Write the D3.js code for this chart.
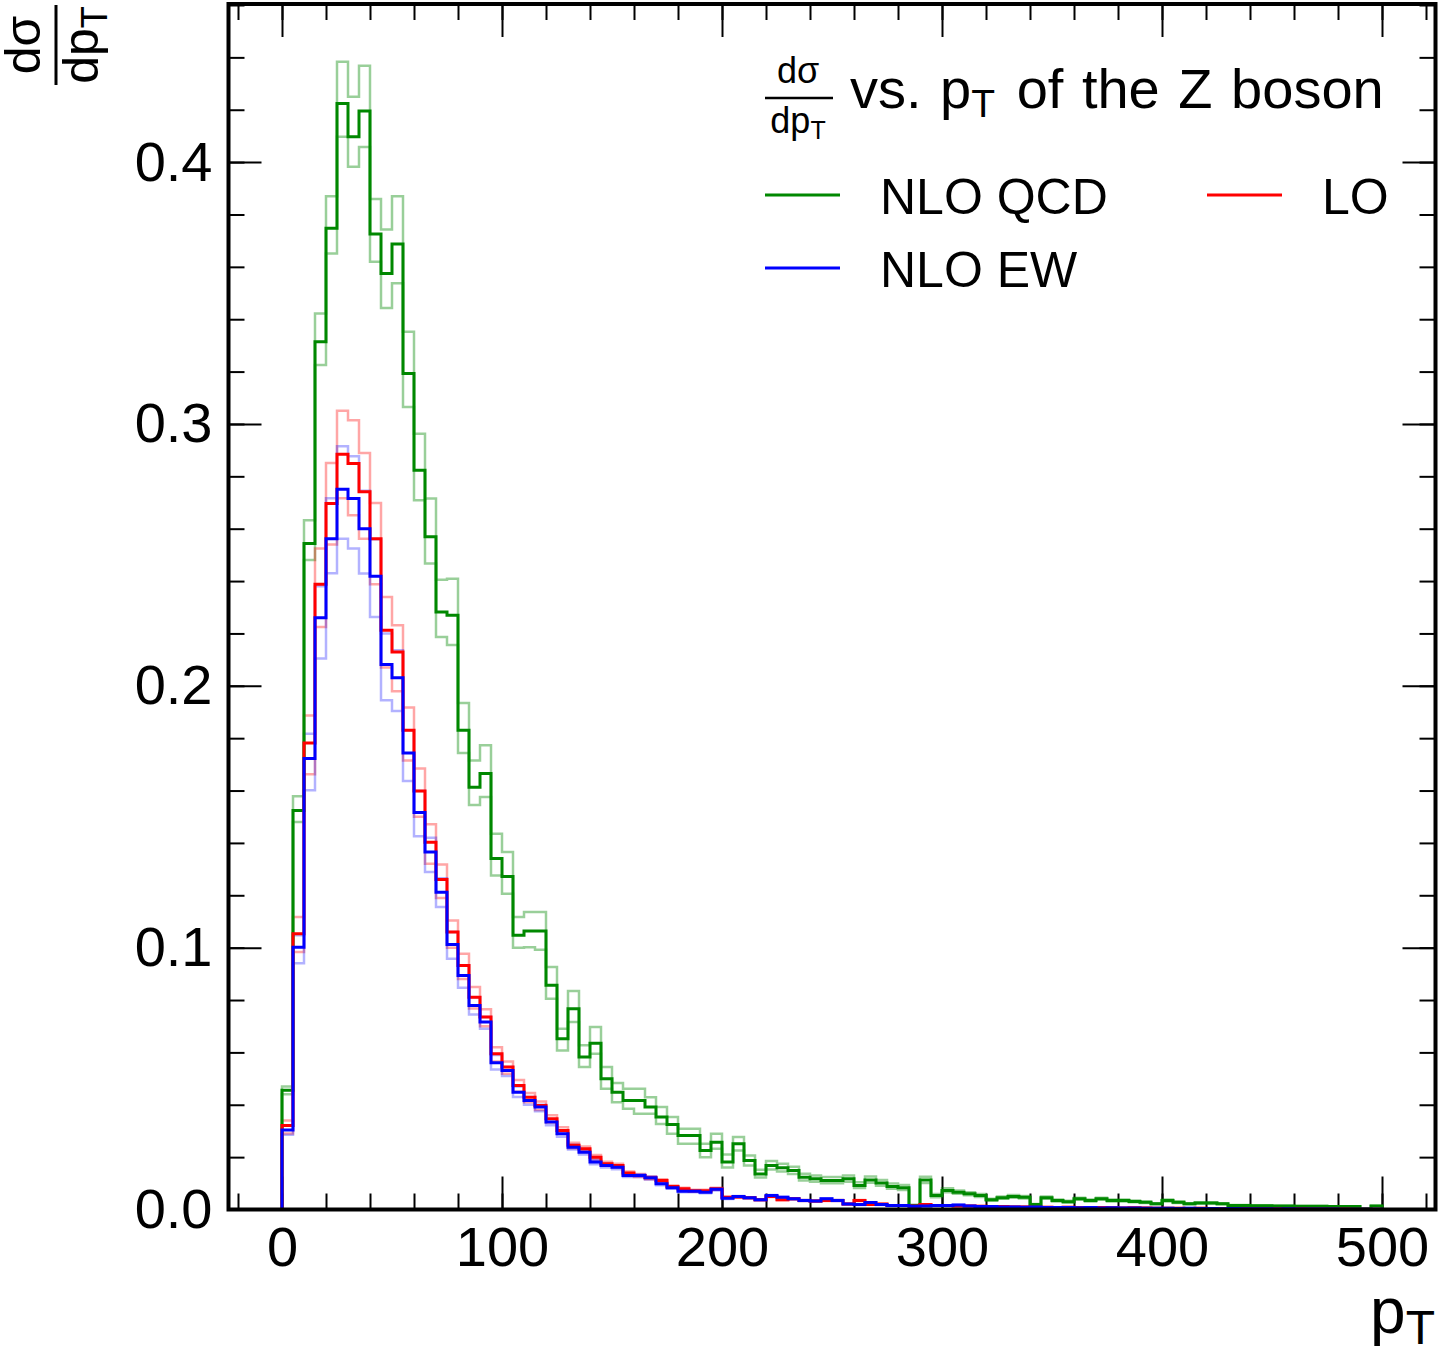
<!DOCTYPE html>
<html>
<head>
<meta charset="utf-8">
<script src="https://cdn.jsdelivr.net/npm/d3@7"></script>
<style>
  body { margin: 0; background: #fff; }
  svg { display: block; font-family: "Liberation Sans", Arial, sans-serif; }
  .tick text { font-size: 56px; fill: #000; font-family: "Liberation Sans", Arial, sans-serif; }
  .tick line { stroke: #000; stroke-width: 2; }
</style>
</head>
<body>
<div id="plot"></div>
<script>
// bins are 5 GeV wide, starting at pT = 0
const BIN_WIDTH = 5;
const xTicks = [0, 100, 200, 300, 400, 500];
const yTicks = [0, 0.1, 0.2, 0.3, 0.4];
const yTickLabels = ["0.0", "0.1", "0.2", "0.3", "0.4"];
const seriesNames = ["NLO QCD", "LO", "NLO EW"];

const qcd = [
  0.0455,0.1524,0.2543,0.3314,0.3747,0.4224,0.4097,0.4195,0.3725,0.3575,
  0.3687,0.3193,0.2823,0.2569,0.2282,0.2269,0.1830,0.1613,0.1665,0.1340,
  0.1272,0.1047,0.1064,0.1064,0.0856,0.0652,0.0767,0.0582,0.0635,0.0499,
  0.0448,0.0416,0.0416,0.0391,0.0353,0.0325,0.0283,0.0283,0.0225,0.0257,
  0.0181,0.0251,0.0187,0.0136,0.0168,0.0159,0.0149,0.0123,0.0117,0.0111,
  0.0111,0.0117,0.0092,0.0113,0.0101,0.0088,0.0083,0.0015,0.0113,0.0053,
  0.0073,0.0066,0.0060,0.0053,0.0037,0.0045,0.0050,0.0047,0.0019,0.0045,
  0.0034,0.0030,0.0041,0.0034,0.0041,0.0034,0.0034,0.0031,0.0028,0.0022,
  0.0034,0.0028,0.0022,0.0025,0.0025,0.0022,0.0015,0.0015,0.0014,0.0014,
  0.0013,0.0013,0.0012,0.0012,0.0012,0.0011,0.0011,0.0011,0.0002,0.0013];
const qcdUp = [
  0.0470,0.1578,0.2632,0.3422,0.3870,0.4383,0.4250,0.4368,0.3859,0.3743,
  0.3870,0.3352,0.2963,0.2715,0.2405,0.2409,0.1934,0.1715,0.1773,0.1435,
  0.1365,0.1117,0.1136,0.1136,0.0926,0.0690,0.0834,0.0627,0.0697,0.0544,
  0.0483,0.0461,0.0461,0.0429,0.0391,0.0353,0.0308,0.0308,0.0251,0.0289,
  0.0210,0.0277,0.0206,0.0152,0.0185,0.0175,0.0163,0.0137,0.0130,0.0124,
  0.0124,0.0130,0.0104,0.0126,0.0113,0.0099,0.0094,0.0018,0.0125,0.0059,
  0.0081,0.0073,0.0066,0.0059,0.0041,0.0050,0.0055,0.0052,0.0021,0.0050,
  0.0038,0.0033,0.0045,0.0038,0.0045,0.0038,0.0038,0.0034,0.0031,0.0024,
  0.0038,0.0031,0.0024,0.0028,0.0028,0.0024,0.0017,0.0017,0.0015,0.0015,
  0.0014,0.0014,0.0013,0.0013,0.0013,0.0012,0.0012,0.0012,0.0002,0.0014];
const qcdDown = [
  0.0440,0.1480,0.2480,0.3225,0.3651,0.4097,0.3982,0.4058,0.3619,0.3443,
  0.3537,0.3065,0.2709,0.2467,0.2186,0.2156,0.1743,0.1545,0.1575,0.1276,
  0.1206,0.1000,0.1002,0.0992,0.0805,0.0607,0.0716,0.0544,0.0595,0.0461,
  0.0410,0.0385,0.0366,0.0366,0.0327,0.0289,0.0251,0.0251,0.0200,0.0232,
  0.0160,0.0225,0.0168,0.0122,0.0153,0.0145,0.0136,0.0111,0.0106,0.0100,
  0.0100,0.0106,0.0082,0.0102,0.0091,0.0079,0.0074,0.0012,0.0101,0.0047,
  0.0066,0.0060,0.0054,0.0048,0.0033,0.0041,0.0045,0.0042,0.0017,0.0041,
  0.0031,0.0027,0.0037,0.0031,0.0037,0.0031,0.0031,0.0028,0.0025,0.0020,
  0.0031,0.0025,0.0020,0.0023,0.0023,0.0020,0.0013,0.0013,0.0013,0.0013,
  0.0012,0.0012,0.0011,0.0011,0.0011,0.0010,0.0010,0.0010,0.0002,0.0012];

const lo = [
  0.0321,0.1053,0.1782,0.2388,0.2696,0.2884,0.2849,0.2741,0.2562,0.2212,
  0.2129,0.1830,0.1598,0.1403,0.1260,0.1060,0.0932,0.0811,0.0735,0.0595,
  0.0544,0.0474,0.0429,0.0397,0.0347,0.0302,0.0245,0.0232,0.0200,0.0175,
  0.0168,0.0139,0.0130,0.0121,0.0111,0.0088,0.0079,0.0072,0.0072,0.0079,
  0.0047,0.0048,0.0045,0.0037,0.0050,0.0037,0.0041,0.0034,0.0032,0.0034,
  0.0034,0.0021,0.0034,0.0019,0.0021,0.0015,0.0015,0.0013,0.0019,0.0015,
  0.0015,0.0013,0.0013,0.0012,0.0011,0.0011,0.0010,0.0010,0.0009,0.0009,
  0.0008,0.0009,0.0008,0.0007,0.0008,0.0007,0.0006,0.0007,0.0006,0.0005,
  0.0005,0.0005,0.0004,0.0005,0.0004,0.0004,0.0003,0.0004,0.0003,0.0003,
  0.0003,0.0002,0.0003,0.0002,0.0002,0.0002,0.0002,0.0001,0.0001,0.0001];
const loUp = [
  0.0340,0.1117,0.1887,0.2524,0.2851,0.3050,0.3014,0.2889,0.2698,0.2339,
  0.2231,0.1917,0.1684,0.1471,0.1318,0.1104,0.0977,0.0850,0.0765,0.0620,
  0.0565,0.0495,0.0445,0.0412,0.0360,0.0314,0.0255,0.0241,0.0208,0.0182,
  0.0175,0.0145,0.0136,0.0126,0.0116,0.0092,0.0083,0.0075,0.0075,0.0083,
  0.0049,0.0050,0.0047,0.0039,0.0052,0.0039,0.0043,0.0036,0.0034,0.0036,
  0.0036,0.0022,0.0036,0.0020,0.0022,0.0016,0.0016,0.0014,0.0020,0.0016,
  0.0016,0.0014,0.0014,0.0013,0.0012,0.0012,0.0011,0.0011,0.0010,0.0010,
  0.0009,0.0010,0.0009,0.0008,0.0009,0.0008,0.0007,0.0008,0.0007,0.0006,
  0.0006,0.0006,0.0005,0.0006,0.0005,0.0005,0.0004,0.0005,0.0004,0.0004,
  0.0004,0.0003,0.0004,0.0003,0.0003,0.0003,0.0003,0.0002,0.0002,0.0002];
const loDown = [
  0.0290,0.0983,0.1662,0.2225,0.2540,0.2716,0.2651,0.2562,0.2388,0.2070,
  0.1979,0.1715,0.1500,0.1320,0.1190,0.1000,0.0880,0.0768,0.0700,0.0565,
  0.0518,0.0450,0.0410,0.0380,0.0332,0.0289,0.0234,0.0222,0.0191,0.0167,
  0.0160,0.0133,0.0124,0.0116,0.0106,0.0084,0.0075,0.0069,0.0069,0.0075,
  0.0045,0.0046,0.0043,0.0035,0.0048,0.0035,0.0039,0.0032,0.0030,0.0032,
  0.0032,0.0020,0.0032,0.0018,0.0020,0.0014,0.0014,0.0012,0.0018,0.0014,
  0.0014,0.0012,0.0012,0.0011,0.0010,0.0010,0.0009,0.0009,0.0008,0.0008,
  0.0007,0.0008,0.0007,0.0006,0.0007,0.0006,0.0005,0.0006,0.0005,0.0004,
  0.0004,0.0004,0.0003,0.0004,0.0003,0.0003,0.0002,0.0003,0.0002,0.0002,
  0.0002,0.0001,0.0002,0.0001,0.0001,0.0001,0.0001,0.0001,0.0001,0.0001];

const ew = [
  0.0304,0.1002,0.1722,0.2260,0.2562,0.2751,0.2715,0.2600,0.2418,0.2081,
  0.2031,0.1743,0.1516,0.1365,0.1212,0.1012,0.0894,0.0779,0.0716,0.0560,
  0.0531,0.0448,0.0416,0.0391,0.0334,0.0289,0.0238,0.0219,0.0181,0.0168,
  0.0161,0.0130,0.0130,0.0121,0.0098,0.0083,0.0070,0.0070,0.0066,0.0077,
  0.0043,0.0050,0.0045,0.0037,0.0053,0.0047,0.0041,0.0034,0.0032,0.0041,
  0.0034,0.0021,0.0019,0.0027,0.0019,0.0015,0.0015,0.0012,0.0013,0.0015,
  0.0015,0.0017,0.0013,0.0011,0.0011,0.0010,0.0010,0.0009,0.0010,0.0008,
  0.0008,0.0008,0.0007,0.0008,0.0006,0.0007,0.0006,0.0006,0.0005,0.0005,
  0.0005,0.0004,0.0005,0.0004,0.0004,0.0003,0.0004,0.0003,0.0003,0.0003,
  0.0002,0.0003,0.0002,0.0002,0.0002,0.0002,0.0001,0.0001,0.0001,0.0001];
const ewUp = [
  0.0320,0.1047,0.1817,0.2380,0.2716,0.2915,0.2877,0.2745,0.2560,0.2200,
  0.2136,0.1830,0.1598,0.1420,0.1265,0.1060,0.0932,0.0811,0.0735,0.0590,
  0.0544,0.0470,0.0430,0.0400,0.0345,0.0300,0.0247,0.0228,0.0190,0.0175,
  0.0167,0.0135,0.0135,0.0126,0.0102,0.0087,0.0073,0.0073,0.0069,0.0080,
  0.0045,0.0052,0.0047,0.0039,0.0055,0.0049,0.0043,0.0036,0.0034,0.0043,
  0.0036,0.0022,0.0020,0.0028,0.0020,0.0016,0.0016,0.0013,0.0014,0.0016,
  0.0016,0.0018,0.0014,0.0012,0.0012,0.0011,0.0011,0.0010,0.0011,0.0009,
  0.0009,0.0009,0.0008,0.0009,0.0007,0.0008,0.0007,0.0007,0.0006,0.0006,
  0.0006,0.0005,0.0006,0.0005,0.0005,0.0004,0.0005,0.0004,0.0004,0.0004,
  0.0003,0.0004,0.0003,0.0003,0.0003,0.0003,0.0002,0.0002,0.0002,0.0002];
const ewDown = [
  0.0285,0.0940,0.1601,0.2104,0.2430,0.2562,0.2524,0.2429,0.2263,0.1945,
  0.1904,0.1636,0.1425,0.1289,0.1155,0.0958,0.0847,0.0745,0.0690,0.0535,
  0.0510,0.0430,0.0400,0.0375,0.0322,0.0278,0.0229,0.0210,0.0173,0.0160,
  0.0154,0.0124,0.0124,0.0115,0.0093,0.0079,0.0066,0.0066,0.0062,0.0073,
  0.0040,0.0047,0.0042,0.0035,0.0050,0.0044,0.0038,0.0032,0.0030,0.0038,
  0.0032,0.0019,0.0017,0.0025,0.0017,0.0013,0.0013,0.0010,0.0011,0.0013,
  0.0013,0.0015,0.0011,0.0009,0.0009,0.0008,0.0008,0.0007,0.0008,0.0006,
  0.0006,0.0006,0.0005,0.0006,0.0004,0.0005,0.0004,0.0004,0.0003,0.0003,
  0.0003,0.0002,0.0003,0.0002,0.0002,0.0001,0.0002,0.0001,0.0001,0.0001,
  0.0001,0.0001,0.0001,0.0001,0.0001,0.0001,0.0000,0.0000,0.0000,0.0000];

const GREEN = "#008800", RED = "#ff0000", BLUE = "#0000ff";

class HistPlot {
  constructor(el) {
    this.width = 1438;
    this.height = 1352;
    this.frame = {left : 228.5, right : 1435.5, top : 4, bottom : 1209.5};

    this.xScale = d3.scaleLinear().domain([ -25, 525 ]).range([ 227, 1437 ]);
    this.yScale = d3.scaleLinear().domain([ 0, 0.46 ]).range([ 1209.5, 5 ]);

    let xScale = this.xScale, yScale = this.yScale;
    this.lineGen = d3.line()
                       .x(d => xScale(d[0]))
                       .y(d => yScale(d[1]))
                       .curve(d3.curveStepAfter);

    this.svg = d3.select(el)
                   .append("svg")
                   .attr("width", this.width)
                   .attr("height", this.height);
  }

  DrawAxes() {
    let f = this.frame, x = this.xScale, y = this.yScale;
    let xMinor = d3.range(-20, 521, 20);
    let yMinor = d3.range(0, 0.461, 0.02);

    // bottom: major with labels, then minor
    this.svg.append("g")
        .attr("transform", `translate(0,${f.bottom})`)
        .call(d3.axisBottom(x).tickValues(xTicks).tickSize(-33)
                  .tickSizeOuter(0).tickPadding(17))
        .call(g => g.select(".domain").remove());
    this.svg.append("g")
        .attr("transform", `translate(0,${f.bottom})`)
        .call(d3.axisBottom(x).tickValues(xMinor).tickSize(-16)
                  .tickSizeOuter(0).tickFormat(""))
        .call(g => g.select(".domain").remove());

    // top mirror ticks
    this.svg.append("g")
        .attr("transform", `translate(0,${f.top})`)
        .call(d3.axisTop(x).tickValues(xTicks).tickSize(-33)
                  .tickSizeOuter(0).tickFormat(""))
        .call(g => g.select(".domain").remove());
    this.svg.append("g")
        .attr("transform", `translate(0,${f.top})`)
        .call(d3.axisTop(x).tickValues(xMinor).tickSize(-16)
                  .tickSizeOuter(0).tickFormat(""))
        .call(g => g.select(".domain").remove());

    // left
    this.svg.append("g")
        .attr("transform", `translate(${f.left},0)`)
        .call(d3.axisLeft(y).tickValues(yTicks).tickSize(-33)
                  .tickSizeOuter(0).tickPadding(16)
                  .tickFormat((d, i) => yTickLabels[i]))
        .call(g => g.select(".domain").remove());
    this.svg.append("g")
        .attr("transform", `translate(${f.left},0)`)
        .call(d3.axisLeft(y).tickValues(yMinor).tickSize(-16)
                  .tickSizeOuter(0).tickFormat(""))
        .call(g => g.select(".domain").remove());

    // right mirror ticks
    this.svg.append("g")
        .attr("transform", `translate(${f.right},0)`)
        .call(d3.axisRight(y).tickValues(yTicks).tickSize(-33)
                  .tickSizeOuter(0).tickFormat(""))
        .call(g => g.select(".domain").remove());
    this.svg.append("g")
        .attr("transform", `translate(${f.right},0)`)
        .call(d3.axisRight(y).tickValues(yMinor).tickSize(-16)
                  .tickSizeOuter(0).tickFormat(""))
        .call(g => g.select(".domain").remove());
  }

  DrawFrame() {
    let f = this.frame;
    this.svg.append("rect")
        .attr("x", f.left).attr("y", f.top)
        .attr("width", f.right - f.left).attr("height", f.bottom - f.top)
        .attr("fill", "none").attr("stroke", "#000").attr("stroke-width", 4);
  }

  HistPoints(values) {
    let pts = [[0, 0]];
    values.forEach((v, i) => pts.push([i * BIN_WIDTH, v]));
    pts.push([values.length * BIN_WIDTH, 0]);
    return pts;
  }

  AddHist(values, color, width, opacity) {
    this.svg.append("path")
        .attr("d", this.lineGen(this.HistPoints(values)))
        .attr("fill", "none")
        .attr("stroke", color)
        .attr("stroke-width", width)
        .attr("stroke-opacity", opacity)
        .attr("stroke-linejoin", "miter");
  }

  DrawLabels() {
    let svg = this.svg;

    // x axis title
    let xt = svg.append("text")
                 .attr("x", 1435).attr("y", 1333)
                 .attr("text-anchor", "end")
                 .attr("font-size", 64);
    xt.append("tspan").text("p");
    xt.append("tspan").attr("font-size", 48).attr("dy", 11).text("T");

    // y axis title, a rotated fraction
    let yt = svg.append("g").attr("transform", "translate(56,45) rotate(-90)");
    yt.append("text").attr("x", 0).attr("y", -16)
        .attr("text-anchor", "middle").attr("font-size", 50).text("dσ");
    yt.append("line").attr("x1", -40).attr("x2", 40).attr("y1", 0).attr("y2", 0)
        .attr("stroke", "#000").attr("stroke-width", 3);
    let den = yt.append("text").attr("x", 0).attr("y", 42)
                  .attr("text-anchor", "middle").attr("font-size", 50);
    den.append("tspan").text("dp");
    den.append("tspan").attr("font-size", 36).attr("dy", 9).text("T");

    // legend header
    svg.append("text").attr("x", 798).attr("y", 83)
        .attr("text-anchor", "middle").attr("font-size", 36).text("dσ");
    svg.append("line").attr("x1", 765).attr("x2", 833).attr("y1", 98).attr("y2", 98)
        .attr("stroke", "#000").attr("stroke-width", 2.5);
    let hd = svg.append("text").attr("x", 798).attr("y", 133)
                 .attr("text-anchor", "middle").attr("font-size", 36);
    hd.append("tspan").text("dp");
    hd.append("tspan").attr("font-size", 25).attr("dy", 6).text("T");

    let ht = svg.append("text").attr("x", 850).attr("y", 108)
                 .attr("font-size", 56).attr("word-spacing", 3);
    ht.append("tspan").text("vs. p");
    ht.append("tspan").attr("font-size", 39).attr("dy", 9).text("T");
    ht.append("tspan").attr("dy", -9).attr("dx", 3).text(" of the Z boson");

    // legend entries
    let entries = [
      {name : seriesNames[0], color : GREEN, lx : 765, tx : 880, y : 195},
      {name : seriesNames[1], color : RED, lx : 1207, tx : 1322, y : 195},
      {name : seriesNames[2], color : BLUE, lx : 765, tx : 880, y : 268}
    ];
    entries.forEach(e => {
      svg.append("line").attr("x1", e.lx).attr("x2", e.lx + 75)
          .attr("y1", e.y).attr("y2", e.y)
          .attr("stroke", e.color).attr("stroke-width", 3);
      svg.append("text").attr("x", e.tx).attr("y", e.y + 19)
          .attr("font-size", 50).text(e.name);
    });
  }
}

let plot = new HistPlot("#plot");
plot.DrawAxes();

// variation bands first, central values on top
plot.AddHist(qcdUp, GREEN, 2.5, 0.4);
plot.AddHist(qcdDown, GREEN, 2.5, 0.4);
plot.AddHist(loUp, RED, 2.5, 0.35);
plot.AddHist(loDown, RED, 2.5, 0.35);
plot.AddHist(ewUp, BLUE, 2.5, 0.3);
plot.AddHist(ewDown, BLUE, 2.5, 0.3);
plot.AddHist(qcd, GREEN, 3, 1);
plot.AddHist(lo, RED, 3, 1);
plot.AddHist(ew, BLUE, 3, 1);

plot.DrawFrame();
plot.DrawLabels();
</script>
</body>
</html>
